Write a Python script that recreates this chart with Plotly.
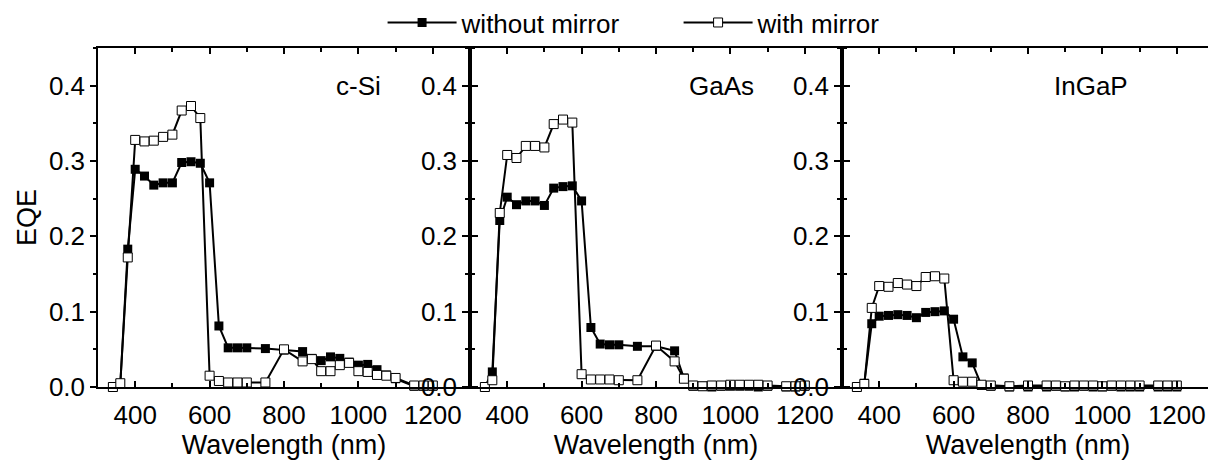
import plotly.graph_objects as go
from plotly.subplots import make_subplots

# wavelengths (nm) shared by all three cells
wl = [340, 360, 380, 400, 425, 450, 475, 500, 525, 550, 575, 600, 625, 650, 675, 700,
      750, 800, 850, 875, 900, 925, 950, 975, 1000, 1025, 1050, 1075, 1100, 1150, 1175, 1200]

# c-Si
csi_without = [0.000, 0.004, 0.183, 0.289, 0.280, 0.268, 0.271, 0.271, 0.298, 0.299, 0.297, 0.271,
               0.081, 0.052, 0.052, 0.052, 0.051, 0.049, 0.047, 0.038, 0.035, 0.040, 0.038, 0.033,
               0.029, 0.030, 0.023, 0.016, 0.011, 0.001, 0.001, 0.001]
csi_with = [0.000, 0.005, 0.172, 0.328, 0.326, 0.327, 0.332, 0.335, 0.367, 0.373, 0.357, 0.015,
            0.008, 0.006, 0.006, 0.006, 0.006, 0.050, 0.034, 0.037, 0.021, 0.021, 0.029, 0.032,
            0.021, 0.020, 0.016, 0.015, 0.012, 0.002, 0.002, 0.002]

# GaAs
gaas_without = [0.000, 0.020, 0.221, 0.252, 0.242, 0.247, 0.247, 0.241, 0.264, 0.266, 0.267, 0.247,
                0.079, 0.057, 0.056, 0.056, 0.054, 0.054, 0.048, 0.012, 0.001, 0.001, 0.000, 0.001,
                0.001, 0.001, 0.001, 0.000, 0.001, 0.000, 0.000, 0.001]
gaas_with = [0.000, 0.009, 0.231, 0.308, 0.304, 0.320, 0.320, 0.318, 0.349, 0.355, 0.351, 0.017,
             0.010, 0.010, 0.010, 0.009, 0.009, 0.055, 0.034, 0.011, 0.002, 0.001, 0.002, 0.002,
             0.003, 0.003, 0.003, 0.003, 0.002, 0.001, 0.001, 0.002]

# InGaP
ingap_without = [0.000, 0.005, 0.084, 0.094, 0.095, 0.096, 0.095, 0.092, 0.099, 0.100, 0.101, 0.090,
                 0.040, 0.032, 0.002, 0.001, 0.000, 0.000, 0.000, 0.001, 0.000, 0.000, 0.001, 0.000,
                 0.000, 0.001, 0.000, 0.000, 0.000, 0.000, 0.000, 0.000]
ingap_with = [0.000, 0.004, 0.105, 0.134, 0.133, 0.138, 0.136, 0.134, 0.146, 0.147, 0.144, 0.009,
              0.007, 0.007, 0.003, 0.002, 0.001, 0.002, 0.002, 0.002, 0.001, 0.002, 0.002, 0.002,
              0.001, 0.002, 0.002, 0.002, 0.002, 0.002, 0.002, 0.002]

panels = [("c-Si", 1000, csi_without, csi_with),
          ("GaAs", 975, gaas_without, gaas_with),
          ("InGaP", 970, ingap_without, ingap_with)]

FONT = "Liberation Sans, Arial, sans-serif"
FS = 26

fig = make_subplots(rows=1, cols=3, horizontal_spacing=0)

for i, (name, lx, wo, w) in enumerate(panels, start=1):
    fig.add_trace(go.Scatter(x=wl, y=wo, mode="lines+markers", name="without mirror",
                             legendgroup="wo", showlegend=(i == 1), cliponaxis=False,
                             line=dict(color="black", width=2),
                             marker=dict(symbol="square", size=9, color="black")),
                  row=1, col=i)
    fig.add_trace(go.Scatter(x=wl, y=w, mode="lines+markers", name="with mirror",
                             legendgroup="w", showlegend=(i == 1), cliponaxis=False,
                             line=dict(color="black", width=2),
                             marker=dict(symbol="square", size=9, color="white",
                                         line=dict(color="black", width=1))),
                  row=1, col=i)
    fig.add_annotation(text=name, x=lx, y=0.40, showarrow=False,
                       font=dict(size=26, color="black"), row=1, col=i)

fig.update_xaxes(range=[300, 1300], tick0=400, dtick=200,
                 ticks="inside", ticklen=6, tickwidth=1.5, tickcolor="black",
                 minor=dict(dtick=100, ticks="inside", ticklen=4, tickcolor="black"),
                 showline=True, linecolor="black", linewidth=1.5, mirror="ticks",
                 showgrid=False, zeroline=False, ticklabelstandoff=4,
                 tickfont=dict(size=FS, color="black"),
                 title=dict(text="Wavelength (nm)", standoff=2,
                            font=dict(size=27, color="black")))

fig.update_yaxes(range=[0, 0.45], tick0=0, dtick=0.1, tickformat=".1f",
                 ticks="outside", ticklen=6, tickwidth=1.5, tickcolor="black",
                 minor=dict(dtick=0.05, ticks="outside", ticklen=3, tickcolor="black"),
                 showline=True, linecolor="black", linewidth=1.5, mirror="ticks",
                 showgrid=False, zeroline=False,
                 tickfont=dict(size=FS, color="black"))
fig.update_yaxes(title=dict(text="EQE", standoff=4, font=dict(size=27, color="black")),
                 row=1, col=1)

# page body keeps an 8px margin, so the figure is sized to sit inside the window
fig.update_layout(
    width=1208, height=460,
    plot_bgcolor="white", paper_bgcolor="white",
    font=dict(family=FONT, color="black"),
    margin=dict(l=90, r=2, t=40, b=81, autoexpand=False),
    legend=dict(orientation="h", x=0.255, xanchor="left", y=1.075, yanchor="middle",
                entrywidth=212, itemwidth=69,
                font=dict(size=26), bgcolor="rgba(0,0,0,0)"),
)

fig.write_html("out.html")
